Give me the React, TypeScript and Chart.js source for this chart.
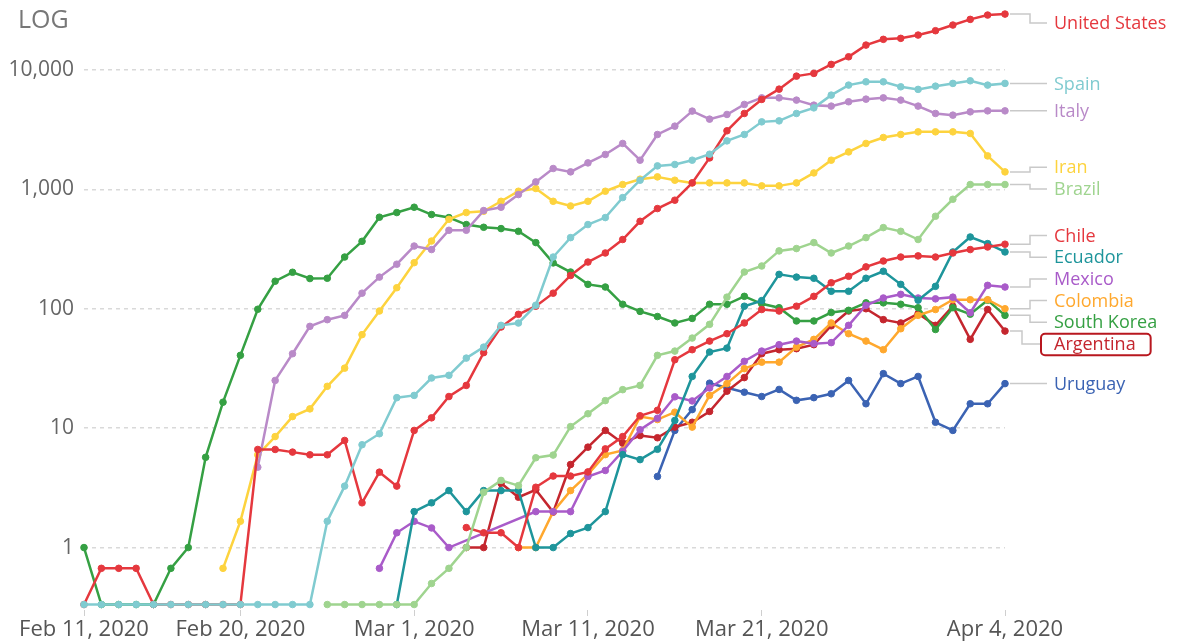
import React, { useEffect, useRef } from 'react';
import { Chart, registerables } from 'chart.js';

Chart.register(...registerables);

const N = null;

// Daily new confirmed cases (log scale), Feb 11 – Apr 4, 2020. 0 = plotted on the floor line.
const MONTHS = ['Jan', 'Feb', 'Mar', 'Apr'];
const dates: string[] = [];
for (let i = 0; i < 54; i++) {
  const d = new Date(2020, 1, 11 + i);
  dates.push(`${MONTHS[d.getMonth()]} ${d.getDate()}, 2020`);
}
const tickIndices = [0, 9, 19, 29, 39, 53];
const yTicks = [1, 10, 100, 1000, 10000];

const unitedStates = [0, 0.67, 0.67, 0.67, 0, 0, 0, 0, 0, 0, 6.63, 6.63, 6.3, 5.98, 5.98, 7.89, 2.37, 4.28, 3.27, 9.57, 12.2, 18.4, 22.8, 42.9, 70.3, 89.8, 105, 135, 190, 246, 293, 380, 540, 690, 811, 1132, 1833, 3090, 4318, 5660, 6900, 8870, 9350, 11120, 12880, 16140, 18030, 18380, 19580, 21300, 23750, 26500, 28800, 29350];
const spain = [0, 0, 0, 0, 0, 0, 0, 0, 0, 0, 0, 0, 0, 0, 1.66, 3.27, 7.26, 8.98, 18, 18.8, 26.3, 27.7, 38.6, 47.7, 72.6, 75.9, 107, 271, 394, 507, 580, 853, 1192, 1571, 1614, 1754, 1968, 2545, 2879, 3673, 3744, 4318, 4810, 6150, 7460, 7950, 7950, 7220, 6870, 7310, 7710, 8110, 7460, 7710];
const italy = [N, N, N, N, N, N, N, N, N, N, 4.71, 25.1, 42, 71.2, 81, 88, 135, 184, 236, 335, 313, 454, 454, 664, 708, 904, 1154, 1494, 1400, 1665, 1958, 2422, 1754, 2879, 3380, 4518, 3870, 4236, 5140, 5835, 5835, 5585, 5070, 4975, 5410, 5690, 5835, 5585, 4975, 4318, 4180, 4455, 4540, 4540];
const iran = [N, N, N, N, N, N, N, N, 0.67, 1.66, 5.98, 8.5, 12.5, 14.5, 22.4, 31.8, 60.7, 95.7, 150, 243, 369, 561, 639, 655, 794, 964, 1016, 794, 726, 794, 964, 1097, 1216, 1271, 1192, 1132, 1132, 1132, 1132, 1069, 1069, 1132, 1372, 1754, 2057, 2422, 2717, 2879, 3030, 3030, 3030, 2937, 1905, 1400];
const brazil = [N, N, N, N, N, N, N, N, N, N, N, N, N, N, 0, 0, 0, 0, 0, 0, 0.5, 0.67, 1, 2.9, 3.65, 3.3, 5.65, 5.95, 10.3, 13.2, 17, 21, 22.8, 40.7, 44.2, 56.8, 74, 125, 203, 228, 305, 319, 358, 293, 335, 394, 478, 445, 380, 595, 826, 1097, 1097, 1097];
const chile = [N, N, N, N, N, N, N, N, N, N, N, N, N, N, N, N, N, N, N, N, N, N, 1.47, 1.33, 1.33, 1, 3.2, 3.97, 3.97, 4.3, 6.7, 8.5, 12.7, 14.1, 37.4, 45.4, 53.6, 61.8, 76, 98.5, 95.7, 105, 127, 165, 187, 224, 251, 271, 277, 271, 293, 313, 329, 347];
const ecuador = [N, N, N, N, N, N, N, N, N, N, N, N, N, N, N, N, N, N, 0, 2, 2.37, 3, 2, 3, 3, 3, 1, 1, 1.31, 1.47, 2, 6, 5.45, 6.65, 11.6, 27.1, 43.4, 46.8, 105, 117, 194, 184, 180, 140, 140, 180, 206, 160, 118, 154, 299, 399, 351, 299];
const mexico = [N, N, N, N, N, N, N, N, N, N, N, N, N, N, N, N, N, 0.67, 1.33, 1.66, 1.46, 1, N, N, N, N, 2, 2, 2, 3.94, 4.42, 6.4, 9.7, 12.1, 18.3, 16.9, 21.7, 27.1, 36.3, 44.2, 50, 53.6, 51, 52, 72.6, 107, 123, 132, 123, 121, 125, 92.6, 157, 152];
const colombia = [N, N, N, N, N, N, N, N, N, N, N, N, N, N, N, N, N, N, N, N, N, N, N, N, N, 1, 1, 2, 3, 4.1, 6, 6.5, 12.5, 11.8, 13.6, 10.2, 18.8, 23.6, 31.5, 35.7, 35.7, 47.7, 55.4, 76, 61.8, 53.6, 45.4, 68, 88, 98.5, 119, 119, 119, 100];
const southKorea = [1, 0, 0, 0, 0, 0.67, 1, 5.7, 16.5, 40.7, 99, 170, 202, 179, 180, 271, 367, 584, 639, 708, 615, 580, 507, 481, 469, 445, 358, 242, 203, 160, 152, 109, 95, 86, 76, 83, 109, 109, 127, 110, 102, 79, 79, 93, 97, 112, 112, 109, 102, 67, 102, 90, 118, 88];
const argentina = [N, N, N, N, N, N, N, N, N, N, N, N, N, N, N, N, N, N, N, N, N, N, 1, 1, 3.46, 2.64, 3.05, 1.98, 4.96, 6.93, 9.57, 7.49, 8.67, 8.31, 10.2, 11.2, 13.8, 20.4, 26.5, 42, 45.4, 46.3, 50, 72, 95.7, 100, 81, 76, 91, 72.6, 105, 55.4, 98.5, 65];
const uruguay = [N, N, N, N, N, N, N, N, N, N, N, N, N, N, N, N, N, N, N, N, N, N, N, N, N, N, N, N, N, N, N, N, N, 3.94, 9.57, 14.3, 23.8, 21.8, 20, 18.4, 21.1, 17.1, 18, 19.4, 25.1, 16, 28.6, 23.6, 27.1, 11.2, 9.57, 16, 16, 23.6];

const FLOOR = 1 / 3;
const Y_MAX = 33000;
const FONT = '"Open Sans", "Noto Sans", sans-serif';

const series = [
  { name: 'Spain', data: spain, color: '#80cbd0' },
  { name: 'United States', data: unitedStates, color: '#e5383e' },
  { name: 'Italy', data: italy, color: '#b98ac8' },
  { name: 'Iran', data: iran, color: '#fdd33e' },
  { name: 'Brazil', data: brazil, color: '#9fd48f' },
  { name: 'Chile', data: chile, color: '#e5383e' },
  { name: 'Ecuador', data: ecuador, color: '#1e959b' },
  { name: 'Mexico', data: mexico, color: '#a95bc9', gaps: true },
  { name: 'Colombia', data: colombia, color: '#ffa82e' },
  { name: 'South Korea', data: southKorea, color: '#35a043' },
  { name: 'Argentina', data: argentina, color: '#c4262e', boxed: true },
  { name: 'Uruguay', data: uruguay, color: '#3b63b3' },
];

const endLabels = {
  id: 'endLabels',
  afterDraw(chart: any) {
    const ctx = chart.ctx;
    const S = 21.7;
    const MIN = 23;
    const items = chart.data.datasets.map((ds: any, i: number) => {
      const meta = chart.getDatasetMeta(i);
      const pt = meta.data[meta.data.length - 1];
      return { name: ds.label, color: ds.borderColor, boxed: ds.boxed, px: pt.x, py: pt.y, ly: pt.y };
    }).sort((a: any, b: any) => a.py - b.py);

    let groups: any[] = items.map((it: any) => ({ items: [it] }));
    const topOf = (g: any) => {
      const mean = g.items.reduce((s: number, it: any) => s + it.py, 0) / g.items.length;
      return Math.max(MIN, mean - ((g.items.length - 1) * S) / 2);
    };
    let merged = true;
    while (merged) {
      merged = false;
      for (let g = 0; g < groups.length - 1; g++) {
        const a = groups[g];
        const b = groups[g + 1];
        if (topOf(b) < topOf(a) + a.items.length * S - 0.01) {
          groups.splice(g, 2, { items: a.items.concat(b.items) });
          merged = true;
          break;
        }
      }
    }
    groups.forEach((g) => {
      const t = topOf(g);
      g.items.forEach((it: any, k: number) => { it.ly = t + k * S; });
    });

    ctx.save();
    ctx.font = `18px ${FONT}`;
    ctx.textBaseline = 'middle';
    ctx.textAlign = 'left';
    const textX = 1054;
    items.forEach((it: any) => {
      const off = it.ly - it.py;
      const elbow = Math.abs(off) > 12 ? 1022 : 1030;
      const endX = it.boxed ? 1041 : 1047;
      ctx.strokeStyle = '#c9c9c9';
      ctx.lineWidth = 1.5;
      ctx.beginPath();
      ctx.moveTo(it.px + 5, it.py);
      ctx.lineTo(elbow, it.py);
      ctx.lineTo(elbow, it.ly);
      ctx.lineTo(endX, it.ly);
      ctx.stroke();
      ctx.fillStyle = it.color;
      ctx.fillText(it.name, textX, it.ly + 1);
      if (it.boxed) {
        const w = ctx.measureText(it.name).width;
        const x0 = 1041, y0 = it.ly - 10.2, bw = w + 13 + 15, bh = 21.4, r = 4;
        ctx.strokeStyle = '#b8171f';
        ctx.lineWidth = 2;
        ctx.beginPath();
        ctx.moveTo(x0 + r, y0);
        ctx.lineTo(x0 + bw - r, y0);
        ctx.arcTo(x0 + bw, y0, x0 + bw, y0 + r, r);
        ctx.lineTo(x0 + bw, y0 + bh - r);
        ctx.arcTo(x0 + bw, y0 + bh, x0 + bw - r, y0 + bh, r);
        ctx.lineTo(x0 + r, y0 + bh);
        ctx.arcTo(x0, y0 + bh, x0, y0 + bh - r, r);
        ctx.lineTo(x0, y0 + r);
        ctx.arcTo(x0, y0, x0 + r, y0, r);
        ctx.closePath();
        ctx.stroke();
      }
    });
    ctx.font = `25px ${FONT}`;
    ctx.fillStyle = '#777';
    ctx.fillText('LOG', 18, 21);
    ctx.restore();
  },
};

export default function App() {
  const ref = useRef<HTMLCanvasElement | null>(null);
  useEffect(() => {
    if (!ref.current) return;
    Chart.defaults.font.family = FONT;
    const chart = new Chart(ref.current, {
      type: 'line',
      data: {
        labels: dates,
        datasets: series.map((s) => ({
          label: s.name,
          data: s.data.map((v) => (v === null ? null : v <= 0 ? FLOOR : v)),
          borderColor: s.color,
          backgroundColor: s.color,
          pointBackgroundColor: s.color,
          pointBorderColor: s.color,
          pointRadius: 3.3,
          pointBorderWidth: 1,
          borderWidth: 2.5,
          tension: 0,
          spanGaps: !!s.gaps,
          clip: false as any,
          boxed: !!s.boxed,
        })) as any,
      },
      options: {
        responsive: false,
        animation: false,
        events: [],
        layout: { padding: { left: 0, right: 174, top: 8, bottom: 0 } },
        plugins: { legend: { display: false }, tooltip: { enabled: false } },
        scales: {
          x: {
            type: 'category',
            afterBuildTicks: (scale: any) => {
              scale.ticks = tickIndices.map((v) => ({ value: v }));
            },
            afterFit: (scale: any) => {
              scale.height = 31;
              scale.paddingTop = 0;
              scale.paddingBottom = 0;
            },
            grid: { drawOnChartArea: false, drawTicks: true, tickLength: 6, color: '#cfcfcf', lineWidth: 1 },
            border: { display: false },
            ticks: { autoSkip: false, maxRotation: 0, minRotation: 0, padding: 1, color: '#555', font: { size: 22 } },
          },
          y: {
            type: 'logarithmic',
            min: FLOOR,
            max: Y_MAX,
            afterBuildTicks: (scale: any) => {
              scale.ticks = yTicks.map((v) => ({ value: v, major: true }));
            },
            afterFit: (scale: any) => {
              scale.width = 84;
              scale.paddingTop = 0;
              scale.paddingBottom = 0;
            },
            grid: { color: '#d9d9d9', lineWidth: 1.5, drawTicks: false },
            border: { display: false, dash: [4, 4] },
            ticks: {
              padding: 10,
              color: '#666',
              font: { size: 21 },
              callback: (v: any) => Number(v).toLocaleString('en-US'),
            },
          },
        },
      },
      plugins: [endLabels],
    });
    return () => chart.destroy();
  }, []);
  return (
    <div style={{ position: 'fixed', left: 0, top: 0, width: 1179, height: 641, background: '#fff' }}>
      <canvas ref={ref} width={1179} height={641} />
    </div>
  );
}
